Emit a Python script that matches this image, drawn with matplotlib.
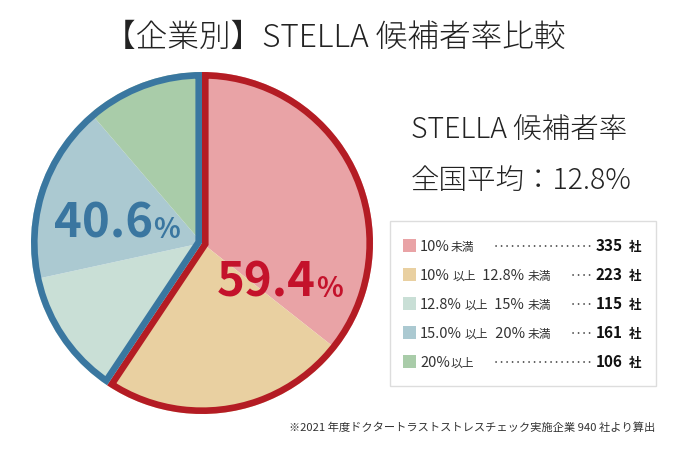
import re
import matplotlib
matplotlib.use('Agg')
import matplotlib.pyplot as plt
from matplotlib.patches import Rectangle
from matplotlib.lines import Line2D
from matplotlib.transforms import IdentityTransform

plt.rcParams['font.family'] = ['Noto Sans CJK JP', 'DejaVu Sans']

# data
categories = ['10%未満', '10%以上 12.8%未満', '12.8%以上 15%未満', '15.0%以上 20%未満', '20%以上']
counts = [335, 223, 115, 161, 106]
colors = ['#e9a3a6', '#e9d0a1', '#c9dfd6', '#abc9d1', '#a9cca9']
groups = [0, 0, 1, 1, 1]          # 0 = under 12.8%, 1 = 12.8% and over
group_colors = ['#b41c24', '#3a77a0']
group_text_colors = ['#c4122b', '#3a76a0']
title = '【企業別】STELLA 候補者率比較'
side_title = 'STELLA 候補者率'
national_avg = '全国平均：12.8%'
footnote = '※2021 年度ドクタートラストストレスチェック実施企業 940 社より算出'

W, H = 675, 456
fig = plt.figure(figsize=(W / 100, H / 100), dpi=100)
fig.patch.set_facecolor('white')
ident = IdentityTransform()

# pie: centre (202, 244) px from top-left, radius 171 px
cx, cy, r = 202, 244, 171
ax = fig.add_axes([(cx - r) / W, (H - cy - r) / H, 2 * r / W, 2 * r / H])
ax.pie(counts, colors=colors, startangle=90, counterclock=False,
       wedgeprops=dict(linewidth=0))

group_vals = [sum(c for c, g in zip(counts, groups) if g == k) for k in (0, 1)]
outlines, _ = ax.pie(group_vals, startangle=90, counterclock=False,
                     wedgeprops=dict(facecolor='none', linewidth=9.5,
                                     joinstyle='miter'))
for w, col in zip(outlines, group_colors):
    w.set_edgecolor(col)
    w.set_clip_on(True)
    w.set_clip_path(w.get_path(), w.get_transform())
ax.set_xlim(-1, 1)
ax.set_ylim(-1, 1)
ax.set_aspect('equal')
ax.axis('off')

renderer = fig.canvas.get_renderer()


def pieces(x, y, parts, gap=0):
    # draw a run of text pieces with varying size, y = baseline from top
    for text, size, weight, color in parts:
        t = fig.text(x, H - y, text, fontsize=size, fontweight=weight, color=color,
                     transform=ident, va='baseline', ha='left')
        x += t.get_window_extent(renderer).width + gap
    return x - gap


total = sum(counts)
pct = [100 * v / total for v in group_vals]
pieces(217, 297, [('%.1f' % pct[0], 34, 'bold', group_text_colors[0]),
                  ('%', 20, 'bold', group_text_colors[0])])
pieces(54, 238, [('%.1f' % pct[1], 34, 'bold', group_text_colors[1]),
                 ('%', 20, 'bold', group_text_colors[1])])

# titles
fig.text(335, H - 38, title, fontsize=22.8, fontweight='light', color='#222222',
         transform=ident, ha='center', va='center')
fig.text(519, H - 131, side_title, fontsize=20.5, fontweight='light', color='#222222',
         transform=ident, ha='center', va='center')
fig.text(521, H - 181, national_avg, fontsize=20.5, fontweight='light', color='#222222',
         transform=ident, ha='center', va='center')

# legend box
fig.add_artist(Rectangle((390, H - 387), 266, 165, transform=ident,
                         facecolor='white', edgecolor='#dddddd', linewidth=1))
row_y = [246, 275, 304, 333, 362]
for lab, col, n, y in zip(categories, colors, counts, row_y):
    fig.add_artist(Rectangle((403, H - y - 6.5), 13, 13, transform=ident,
                             facecolor=col, edgecolor='none'))
    parts = []
    for seg in re.findall(r'[\u3000-\u9fff]+|[^\u3000-\u9fff]+', lab):
        if re.match(r'[\u3000-\u9fff]', seg):
            parts.append((seg, 8.5, 'normal', '#333333'))
        else:
            parts.append((seg, 10.5, 'normal', '#333333'))
    x_end = pieces(420, y + 5, parts, gap=3 if len(parts) > 2 else 1)
    fig.add_artist(Line2D([x_end + 22, 592], [H - y - 1, H - y - 1], transform=ident,
                          color='#333333', linewidth=1.2,
                          linestyle=(0, (0.1, 3.2)), dash_capstyle='round'))
    fig.text(623, H - y - 5, str(n), fontsize=11, fontweight='bold', color='#111111',
             transform=ident, ha='right', va='baseline')
    fig.text(629, H - y - 5, '社', fontsize=9, fontweight='bold', color='#111111',
             transform=ident, ha='left', va='baseline')

fig.text(655, H - 428, footnote, fontsize=8.1, color='#333333', transform=ident,
         ha='right', va='center')

fig.savefig('out.png', dpi=100, facecolor='white')
